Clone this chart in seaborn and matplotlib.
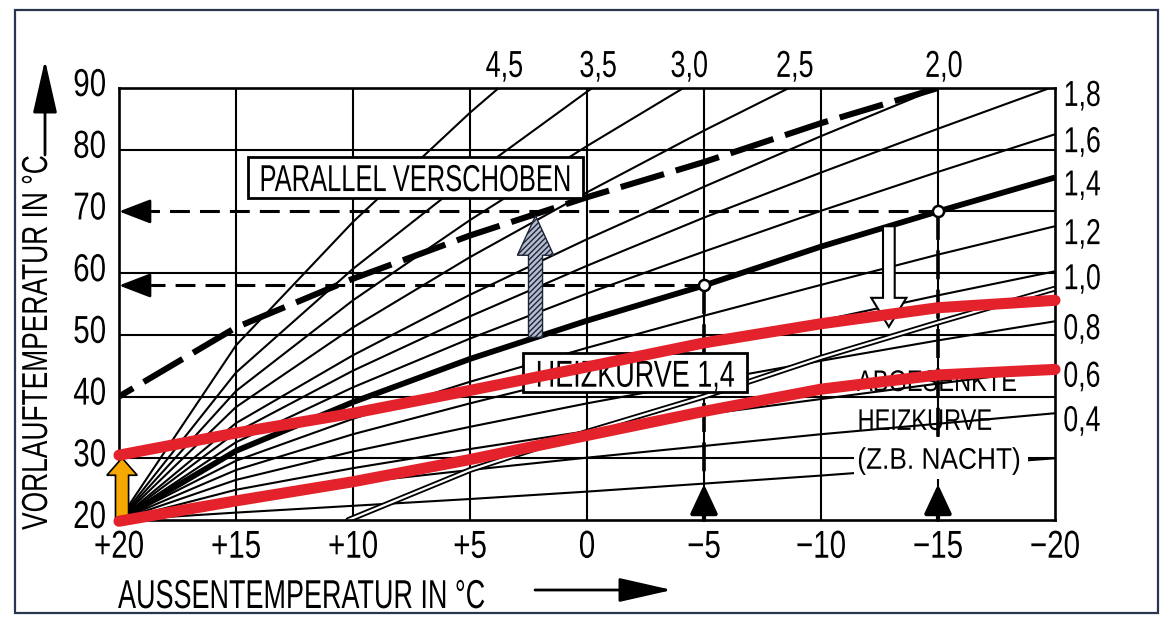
import matplotlib
matplotlib.use("Agg")
import matplotlib.pyplot as plt
import numpy as np
import pandas as pd
import seaborn as sns
from matplotlib import transforms, font_manager
from matplotlib.patches import FancyArrow, Rectangle
from matplotlib.patheffects import AbstractPathEffect
from matplotlib.transforms import Affine2D

# Außentemperatur-Stützstellen (°C)
aussen = [20, 15, 10, 5, 0, -5, -10, -15, -20]

# Heizkennlinien: Vorlauftemperatur je Stützstelle
kurve_0_2 = [20, 21.2, 22.3, 23.4, 24.6, 25.9, 27.2, 28.6, 30.0]
kurve_0_4 = [20, 23.5, 26.0, 28.1, 30.1, 32.0, 33.9, 35.6, 37.3]
kurve_0_6 = [20, 24.9, 28.4, 31.5, 34.4, 37.1, 39.6, 42.1, 44.5]
kurve_0_8 = [20, 26.5, 31.1, 35.1, 38.9, 42.4, 45.8, 49.1, 52.2]
kurve_1_0 = [20, 28.1, 33.9, 38.9, 43.6, 48.1, 52.3, 56.4, 60.3]
kurve_1_2 = [20, 29.6, 36.4, 42.4, 47.9, 53.1, 58.1, 63.0, 67.6]
kurve_1_4 = [20, 31.2, 39.1, 46.1, 52.3, 58.0, 64.3, 70.0, 75.5]
kurve_1_6 = [20, 32.6, 41.5, 49.4, 56.7, 63.5, 70.1, 76.4, 82.5]
kurve_1_8 = [20, 34.2, 44.2, 53.0, 61.2, 69.0, 76.3, 83.4, 90.3]
kurve_2_0 = [20, 35.7, 46.7, 56.5, 65.5, 74.0, 82.2, 90.0, 97.6]
kurve_2_5 = [20, 38.3, 51.2, 62.6, 73.1, 83.1, 92.6]
kurve_3_0 = [20, 40.9, 55.6, 68.6, 80.6, 92.0]
kurve_3_5 = [20, 43.9, 60.7, 75.6, 89.4, 102.5]
kurve_4_5 = [20, 48.3, 68.3, 86.0, 102.3]

# Parallel verschobene Heizkurve 1,4 (nach oben)
kurve_verschoben = [40, 51.2, 59.1, 66.1, 72.3, 78.0, 84.3, 90.0]
# Abgesenkte Heizkurve (Nachtbetrieb)
abgesenkt_aussen = [10.2, 5, 0, -5, -10, -15, -20]
abgesenkt_vorlauf = [20, 28.1, 34.3, 40.0, 46.3, 52.0, 57.5]

# Handschriftlich ergänzte rote Kennlinien
rot_oben = [30.5, 34.1, 37.3, 41.0, 44.8, 48.7, 51.8, 54.4, 55.6]
rot_unten = [19.8, 23.1, 26.2, 29.8, 33.7, 37.6, 41.2, 43.5, 44.4]

# Betriebspunkte auf der Heizkurve 1,4
punkt_aussen = [-5, -15]
punkt_vorlauf = [58.0, 70.0]

x_ticks = [20, 15, 10, 5, 0, -5, -10, -15, -20]
x_ticklabels = ["+20", "+15", "+10", "+5", "0", "\u22125", "\u221210", "\u221215", "\u221220"]
y_ticks = [20, 30, 40, 50, 60, 70, 80, 90]
y_ticklabels = ["20", "30", "40", "50", "60", "70", "80", "90"]

duenne_kurven = [
    ("0,2", kurve_0_2), ("0,4", kurve_0_4), ("0,6", kurve_0_6), ("0,8", kurve_0_8),
    ("1,0", kurve_1_0), ("1,2", kurve_1_2), ("1,6", kurve_1_6), ("1,8", kurve_1_8),
    ("2,0", kurve_2_0), ("2,5", kurve_2_5), ("3,0", kurve_3_0), ("3,5", kurve_3_5),
    ("4,5", kurve_4_5),
]
labels_oben = [("4,5", kurve_4_5), ("3,5", kurve_3_5), ("3,0", kurve_3_0),
               ("2,5", kurve_2_5), ("2,0", kurve_2_0)]
labels_rechts = [("1,8", kurve_1_8), ("1,6", kurve_1_6), ("1,4", kurve_1_4),
                 ("1,2", kurve_1_2), ("1,0", kurve_1_0), ("0,8", kurve_0_8),
                 ("0,6", kurve_0_6), ("0,4", kurve_0_4)]


class Schmalschrift(AbstractPathEffect):
    """Draws glyphs horizontally condensed (technical lettering look)."""

    def __init__(self, faktor, anker="center"):
        super().__init__()
        self.faktor = faktor
        self.anker = anker

    def draw_path(self, renderer, gc, tpath, affine, rgbFace=None):
        ext = tpath.get_extents()
        if self.anker == "left":
            cx = ext.x0
        elif self.anker == "right":
            cx = ext.x1
        else:
            cx = 0.5 * (ext.x0 + ext.x1)
        squeeze = Affine2D().translate(-cx, 0).scale(self.faktor, 1.0).translate(cx, 0)
        renderer.draw_path(gc, tpath, squeeze + affine, rgbFace)


def schmal(t, faktor, anker="center"):
    t.set_path_effects([Schmalschrift(faktor, anker)])
    return t


sns.set_theme(style="white")
installed = {f.name for f in font_manager.fontManager.ttflist}
base_font = "Liberation Sans Narrow" if "Liberation Sans Narrow" in installed else "Liberation Sans"
plt.rcParams["font.family"] = [base_font, "DejaVu Sans"]
plt.rcParams["text.color"] = "black"

W, H = 1163, 619
fig = plt.figure(figsize=(W / 100, H / 100), dpi=100)
fig.patch.set_facecolor("white")
ax = fig.add_axes([119 / W, 1 - 520 / H, 936 / W, 432 / H])
ax.set_facecolor("white")
ax.set_xlim(20, -20)
ax.set_ylim(20, 90)

# Gitter
ax.vlines(x_ticks[1:-1], 20, 90, color="black", lw=1.5, zorder=1)
ax.hlines([30, 40, 50, 60, 80], 20, -20, color="black", lw=1.5, zorder=1)
ax.hlines(70, -15, -20, color="black", lw=1.5, zorder=1)

# Kennlinienschar
rows = []
for name, vals in duenne_kurven:
    for t, v in zip(aussen, vals):
        rows.append((name, t, v))
schar = pd.DataFrame(rows, columns=["kurve", "aussen", "vorlauf"])
sns.lineplot(data=schar, x="aussen", y="vorlauf", units="kurve", estimator=None,
             color="black", lw=1.5, ax=ax, legend=False, zorder=2)

# Abgesenkte Heizkurve als Doppellinie
sns.lineplot(x=abgesenkt_aussen, y=abgesenkt_vorlauf, color="black", lw=4.2, ax=ax, zorder=2.5)
sns.lineplot(x=abgesenkt_aussen, y=abgesenkt_vorlauf, color="white", lw=1.6, ax=ax, zorder=2.6)

# Heizkurve 1,4 (kräftig) und parallel verschobene Kurve (gestrichelt)
sns.lineplot(x=aussen, y=kurve_1_4, color="black", lw=4.2, ax=ax, zorder=3,
             solid_capstyle="butt")
sns.lineplot(x=aussen[:len(kurve_verschoben)], y=kurve_verschoben, color="black", lw=4.4,
             linestyle=(0, (7.4, 2.0)), ax=ax, zorder=3, dash_capstyle="butt")

# Hilfslinien zu den Betriebspunkten
for pa, pv in zip(punkt_aussen, punkt_vorlauf):
    ax.plot([pa, 18.6], [pv, pv], color="black", lw=2.2, linestyle=(0, (6.5, 3.3)), zorder=4)
    ax.annotate("", xy=(20, pv), xytext=(18.4, pv),
                arrowprops=dict(arrowstyle="-|>,head_length=1.3,head_width=0.5",
                                mutation_scale=15, color="black", lw=2.0,
                                shrinkA=0, shrinkB=0), zorder=4, annotation_clip=False)
    ax.plot([pa, pa], [pv, 26.5], color="black", lw=2.6, linestyle=(0, (8, 2.9)), zorder=4)
    ax.annotate("", xy=(pa, 25.8), xytext=(pa, 20),
                arrowprops=dict(arrowstyle="-|>,head_length=0.9,head_width=0.42",
                                mutation_scale=20, color="black", lw=3.0,
                                shrinkA=0, shrinkB=0), zorder=4, annotation_clip=False)
ax.plot(punkt_aussen, punkt_vorlauf, ls="none", marker="o", ms=8, mfc="white",
        mec="black", mew=1.8, zorder=6)

# Textkästen
ax.add_patch(Rectangle((14.49, 72.19), 0.17 - 14.49, 78.83 - 72.19, fc="white", ec="black",
                       lw=2.0, zorder=5))
schmal(ax.text(7.33, 73.3, "PARALLEL VERSCHOBEN", ha="center", va="baseline", fontsize=27,
               zorder=5.5), 0.68)
ax.add_patch(Rectangle((2.74, 40.75), -6.84 - 2.74, 47.07 - 40.75, fc="white", ec="black",
                       lw=2.0, zorder=5))
schmal(ax.text(-2.05, 41.6, "HEIZKURVE 1,4", ha="center", va="baseline", fontsize=27,
               zorder=5.5), 0.72)
schmal(ax.text(-11.54, 40.9, "ABGESENKTE", ha="left", va="baseline", fontsize=21.5,
               zorder=2.2), 0.79, "left")
schmal(ax.text(-11.54, 34.6, "HEIZKURVE", ha="left", va="baseline", fontsize=21.5,
               zorder=2.2), 0.79, "left")
# weiß hinterlegte Zeile unterbricht Gitterlinie und Hilfslinie
ax.add_patch(Rectangle((-11.4, 26.6), -18.85 + 11.4, 6.8, fc="white", ec="none", zorder=4.5))
schmal(ax.text(-11.54, 28.3, "(Z.B. NACHT)", ha="left", va="baseline", fontsize=21.5,
               zorder=4.6), 0.88, "left")

# Pfeil: Parallelverschiebung nach oben (schraffiert)
ax.add_patch(FancyArrow(2.2, 49.6, 0, 19.7, width=0.6, head_width=1.55, head_length=6.4,
                        length_includes_head=True, fc="#b7bdd0", ec="#1d2436", lw=1.0,
                        hatch="//////", zorder=5))
# Pfeil: Absenkung (weiß)
ax.add_patch(FancyArrow(-12.9, 67.6, 0, -16.3, width=0.5, head_width=1.5, head_length=4.7,
                        length_includes_head=True, fc="white", ec="black", lw=1.5,
                        zorder=5))
# Pfeil: Anhebung des Fußpunkts (orange)
ax.add_patch(FancyArrow(19.87, 20.3, 0, 9.75, width=0.56, head_width=1.3, head_length=2.8,
                        length_includes_head=True, fc="#f6a800", ec="black", lw=1.2,
                        zorder=8, clip_on=False))

# Rote Kennlinien
for vals in (rot_oben, rot_unten):
    sns.lineplot(x=aussen, y=vals, color="#e3222b", lw=8.0, ax=ax, zorder=9,
                 solid_capstyle="round", solid_joinstyle="round", clip_on=False)

# Steilheitsbeschriftungen
for name, vals in labels_oben:
    x90 = np.interp(90, vals, aussen[:len(vals)])
    schmal(ax.text(x90 - 0.25, 91.8, name, ha="center", va="baseline", fontsize=27,
                   clip_on=False), 0.72)
for name, vals in labels_rechts:
    schmal(ax.text(-20.34, min(vals[-1], 90.0) - 2.9, name, ha="left", va="baseline",
                   fontsize=26, clip_on=False), 0.74, "left")

# Achsen
ax.set_xticks(x_ticks)
ax.set_xticklabels(x_ticklabels, fontsize=28)
ax.set_yticks(y_ticks)
ax.set_yticklabels(y_ticklabels, fontsize=28)
ax.tick_params(axis="x", length=0, pad=7, colors="black")
ax.tick_params(axis="y", length=0, pad=9, colors="black")
shift = transforms.ScaledTranslation(0, -0.08, fig.dpi_scale_trans)
for lab in ax.get_yticklabels():
    lab.set_va("baseline")
    lab.set_transform(lab.get_transform() + shift)
    schmal(lab, 0.76, "right")
for lab in ax.get_xticklabels():
    schmal(lab, 0.76)
ax.set_xlabel("")
ax.set_ylabel("")
for sp in ax.spines.values():
    sp.set_color("black")
    sp.set_linewidth(1.9)
    sp.set_zorder(7)

schmal(fig.text(118 / W, 1 - 608 / H, "AUSSENTEMPERATUR IN \u00b0C", ha="left",
                va="baseline", fontsize=29), 0.67, "left")
schmal(fig.text(55 / W, 1 - 530 / H, "VORLAUFTEMPERATUR IN \u00b0C", rotation=90,
                ha="right", va="bottom", fontsize=26), 0.73, "left")
ax.annotate("", xy=(672, H - 590), xytext=(535, H - 590), xycoords="figure pixels",
            arrowprops=dict(arrowstyle="-|>,head_length=2.2,head_width=0.5",
                            mutation_scale=15, color="black", lw=2.0, shrinkA=0, shrinkB=0))
ax.annotate("", xy=(45, H - 60), xytext=(45, H - 155), xycoords="figure pixels",
            arrowprops=dict(arrowstyle="-|>,head_length=2.2,head_width=0.5",
                            mutation_scale=15, color="black", lw=2.0, shrinkA=0, shrinkB=0))

# Blattrahmen
fig.add_artist(Rectangle((15 / W, 1 - 613 / H), 1143 / W, 603 / H, transform=fig.transFigure,
                         fill=False, ec="#2c3550", lw=1.6))

fig.savefig("out.png", dpi=100, facecolor="white")
